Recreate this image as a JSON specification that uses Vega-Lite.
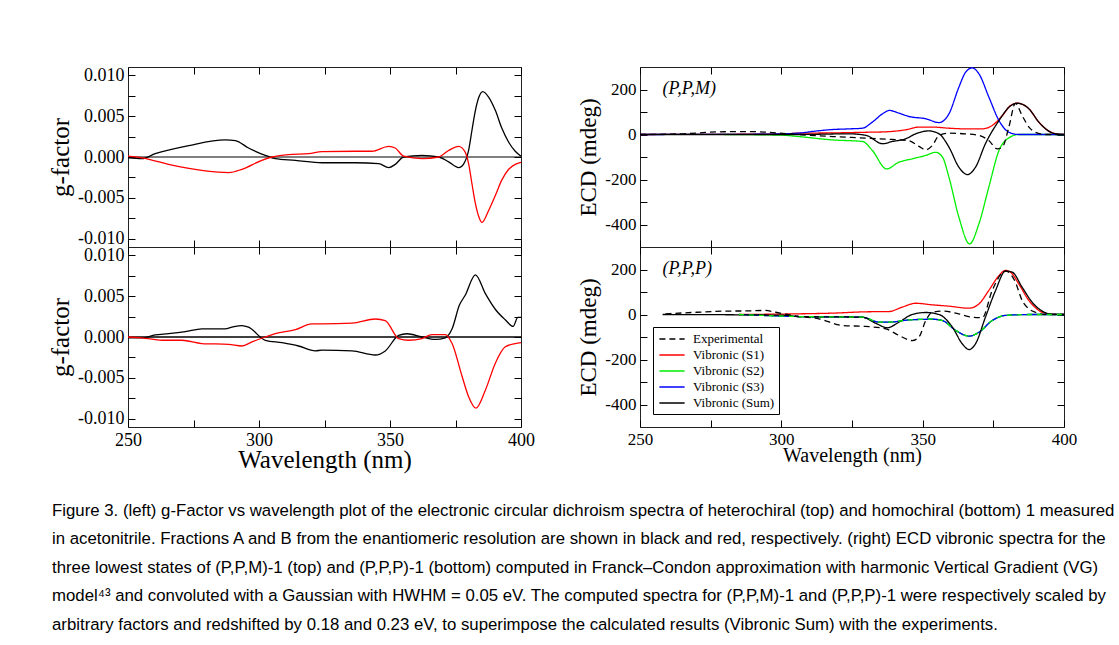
{
  "$schema": "https://vega.github.io/schema/vega-lite/v6.json",
  "background": "white",
  "padding": {"left": 48, "top": 64, "right": 0, "bottom": 0},
  "config": {
    "view": {"stroke": "#222", "strokeWidth": 1},
    "axis": {"grid": false, "domain": false, "tickColor": "#000", "tickSize": -7, "labelPadding": 11, "labelFont": "Liberation Serif", "titleFont": "Liberation Serif", "titleFontWeight": "normal", "labelColor": "#000", "titleColor": "#000", "labelFlush": false, "labelOverlap": false},
    "line": {"strokeWidth": 1.3, "interpolate": "monotone"}
  },
  "title": {
    "text": [
      "Figure 3. (left) g-Factor vs wavelength plot of the electronic circular dichroism spectra of heterochiral (top) and homochiral (bottom) 1 measured",
      "in acetonitrile. Fractions A and B from the enantiomeric resolution are shown in black and red, respectively. (right) ECD vibronic spectra for the",
      "three lowest states of (P,P,M)-1 (top) and (P,P,P)-1 (bottom) computed in Franck–Condon approximation with harmonic Vertical Gradient (VG)",
      "model⁴³ and convoluted with a Gaussian with HWHM = 0.05 eV. The computed spectra for (P,P,M)-1 and (P,P,P)-1 were respectively scaled by",
      "arbitrary factors and redshifted by 0.18 and 0.23 eV, to superimpose the calculated results (Vibronic Sum) with the experiments."
    ],
    "orient": "bottom", "anchor": "start", "frame": "bounds",
    "font": "Liberation Sans", "fontSize": 16.8, "fontWeight": "normal", "color": "#000",
    "lineHeight": 28.6, "offset": 30, "dx": 4
  },
  "datasets": {
    "gtop": [
      {"wl": 250, "v": -0.0001, "s": "A"}, {"wl": 255.3, "v": -0.0002, "s": "A"}, {"wl": 260.4, "v": 0.0004, "s": "A"}, {"wl": 273.2, "v": 0.0014, "s": "A"}, {"wl": 287.1, "v": 0.0021, "s": "A"}, {"wl": 291, "v": 0.002, "s": "A"}, {"wl": 296, "v": 0.0011, "s": "A"}, {"wl": 302.4, "v": 0.0002, "s": "A"}, {"wl": 306.2, "v": -0.0002, "s": "A"}, {"wl": 313.9, "v": -0.0004, "s": "A"}, {"wl": 324, "v": -0.0007, "s": "A"}, {"wl": 336.8, "v": -0.0007, "s": "A"}, {"wl": 345.7, "v": -0.0008, "s": "A"}, {"wl": 349.5, "v": -0.0013, "s": "A"}, {"wl": 352, "v": -0.0009, "s": "A"}, {"wl": 355.2, "v": 0, "s": "A"}, {"wl": 362.2, "v": 0.0002, "s": "A"}, {"wl": 368.6, "v": 0, "s": "A"}, {"wl": 372.4, "v": -0.0006, "s": "A"}, {"wl": 376.2, "v": -0.0013, "s": "A"}, {"wl": 378.2, "v": -0.0008, "s": "A"}, {"wl": 380, "v": 0.0008, "s": "A"}, {"wl": 381.3, "v": 0.0033, "s": "A"}, {"wl": 382.6, "v": 0.0057, "s": "A"}, {"wl": 383.9, "v": 0.0073, "s": "A"}, {"wl": 385.4, "v": 0.008, "s": "A"}, {"wl": 387.7, "v": 0.0073, "s": "A"}, {"wl": 390.2, "v": 0.0057, "s": "A"}, {"wl": 392.7, "v": 0.0035, "s": "A"}, {"wl": 395.3, "v": 0.0018, "s": "A"}, {"wl": 397.8, "v": 0.0007, "s": "A"}, {"wl": 400, "v": 0.0001, "s": "A"},
      {"wl": 250, "v": 0.0001, "s": "B"}, {"wl": 255.3, "v": -0.0001, "s": "B"}, {"wl": 266.8, "v": -0.001, "s": "B"}, {"wl": 279.5, "v": -0.0017, "s": "B"}, {"wl": 288.4, "v": -0.0019, "s": "B"}, {"wl": 293.5, "v": -0.0015, "s": "B"}, {"wl": 301.1, "v": -0.0004, "s": "B"}, {"wl": 305, "v": 0, "s": "B"}, {"wl": 311.3, "v": 0.0003, "s": "B"}, {"wl": 319, "v": 0.0004, "s": "B"}, {"wl": 324, "v": 0.00065, "s": "B"}, {"wl": 336.8, "v": 0.0007, "s": "B"}, {"wl": 343.1, "v": 0.0007, "s": "B"}, {"wl": 349.5, "v": 0.0013, "s": "B"}, {"wl": 352, "v": 0.0011, "s": "B"}, {"wl": 355.2, "v": 0.0001, "s": "B"}, {"wl": 362.2, "v": -0.0002, "s": "B"}, {"wl": 368.6, "v": 0, "s": "B"}, {"wl": 372.4, "v": 0.0008, "s": "B"}, {"wl": 376.2, "v": 0.0013, "s": "B"}, {"wl": 378.7, "v": 0.0006, "s": "B"}, {"wl": 380, "v": -0.0008, "s": "B"}, {"wl": 381.3, "v": -0.0033, "s": "B"}, {"wl": 382.6, "v": -0.0057, "s": "B"}, {"wl": 383.9, "v": -0.0073, "s": "B"}, {"wl": 385.1, "v": -0.008, "s": "B"}, {"wl": 387.7, "v": -0.0065, "s": "B"}, {"wl": 390.2, "v": -0.0047, "s": "B"}, {"wl": 392.7, "v": -0.0028, "s": "B"}, {"wl": 395.3, "v": -0.0015, "s": "B"}, {"wl": 397.8, "v": -0.0009, "s": "B"}, {"wl": 400, "v": -0.00065, "s": "B"}
    ],
    "gbot": [
      {"wl": 250, "v": -0.0001, "s": "A"}, {"wl": 255.3, "v": -0.0001, "s": "A"}, {"wl": 260.4, "v": 0.00025, "s": "A"}, {"wl": 265.5, "v": 0.0004, "s": "A"}, {"wl": 271.9, "v": 0.00065, "s": "A"}, {"wl": 278.2, "v": 0.001, "s": "A"}, {"wl": 287.1, "v": 0.001, "s": "A"}, {"wl": 289.7, "v": 0.0012, "s": "A"}, {"wl": 293.5, "v": 0.0014, "s": "A"}, {"wl": 296, "v": 0.0012, "s": "A"}, {"wl": 302.4, "v": -0.0004, "s": "A"}, {"wl": 308.8, "v": -0.0007, "s": "A"}, {"wl": 315.1, "v": -0.0011, "s": "A"}, {"wl": 321.5, "v": -0.0017, "s": "A"}, {"wl": 324, "v": -0.0016, "s": "A"}, {"wl": 335.5, "v": -0.0017, "s": "A"}, {"wl": 344.4, "v": -0.0022, "s": "A"}, {"wl": 348.2, "v": -0.0017, "s": "A"}, {"wl": 353.3, "v": 0.0002, "s": "A"}, {"wl": 356.5, "v": 0.0004, "s": "A"}, {"wl": 362.2, "v": 0, "s": "A"}, {"wl": 367.3, "v": -0.0003, "s": "A"}, {"wl": 371.1, "v": -0.0001, "s": "A"}, {"wl": 373.7, "v": 0.001, "s": "A"}, {"wl": 376.5, "v": 0.0039, "s": "A"}, {"wl": 378.7, "v": 0.0051, "s": "A"}, {"wl": 382.6, "v": 0.0076, "s": "A"}, {"wl": 386.4, "v": 0.0053, "s": "A"}, {"wl": 390.4, "v": 0.0033, "s": "A"}, {"wl": 394, "v": 0.0021, "s": "A"}, {"wl": 397, "v": 0.0013, "s": "A"}, {"wl": 398.8, "v": 0.0024, "s": "A"}, {"wl": 400, "v": 0.0024, "s": "A"},
      {"wl": 250, "v": 0, "s": "B"}, {"wl": 255.3, "v": -0.0001, "s": "B"}, {"wl": 263, "v": -0.0004, "s": "B"}, {"wl": 270.6, "v": -0.0004, "s": "B"}, {"wl": 278.2, "v": -0.0008, "s": "B"}, {"wl": 288.4, "v": -0.0009, "s": "B"}, {"wl": 293.5, "v": -0.0011, "s": "B"}, {"wl": 297.3, "v": -0.0006, "s": "B"}, {"wl": 302.4, "v": 0, "s": "B"}, {"wl": 306.2, "v": 0.0004, "s": "B"}, {"wl": 313.9, "v": 0.0009, "s": "B"}, {"wl": 320.2, "v": 0.0016, "s": "B"}, {"wl": 324, "v": 0.0016, "s": "B"}, {"wl": 335.5, "v": 0.0017, "s": "B"}, {"wl": 344.4, "v": 0.0022, "s": "B"}, {"wl": 348.2, "v": 0.002, "s": "B"}, {"wl": 353.3, "v": -0.0002, "s": "B"}, {"wl": 357.1, "v": -0.0004, "s": "B"}, {"wl": 362.2, "v": -0.0002, "s": "B"}, {"wl": 366, "v": 0.0003, "s": "B"}, {"wl": 371.1, "v": 0.0003, "s": "B"}, {"wl": 373.7, "v": -0.0008, "s": "B"}, {"wl": 377.5, "v": -0.0048, "s": "B"}, {"wl": 380, "v": -0.0073, "s": "B"}, {"wl": 382.8, "v": -0.0087, "s": "B"}, {"wl": 386.4, "v": -0.0065, "s": "B"}, {"wl": 390.2, "v": -0.0032, "s": "B"}, {"wl": 394, "v": -0.0012, "s": "B"}, {"wl": 397.8, "v": -0.0008, "s": "B"}, {"wl": 400, "v": -0.0007, "s": "B"}
    ],
    "ecdtop": [
      {"wl": 280, "v": 0, "s": "Vibronic (S2)"}, {"wl": 300, "v": -3, "s": "Vibronic (S2)"}, {"wl": 306, "v": -9, "s": "Vibronic (S2)"}, {"wl": 318, "v": -24, "s": "Vibronic (S2)"}, {"wl": 328.7, "v": -31, "s": "Vibronic (S2)"}, {"wl": 332.2, "v": -71, "s": "Vibronic (S2)"}, {"wl": 337.2, "v": -153, "s": "Vibronic (S2)"}, {"wl": 341.6, "v": -123, "s": "Vibronic (S2)"}, {"wl": 346.3, "v": -108, "s": "Vibronic (S2)"}, {"wl": 351.1, "v": -93, "s": "Vibronic (S2)"}, {"wl": 354.6, "v": -79, "s": "Vibronic (S2)"}, {"wl": 357, "v": -100, "s": "Vibronic (S2)"}, {"wl": 359.3, "v": -190, "s": "Vibronic (S2)"}, {"wl": 362.8, "v": -367, "s": "Vibronic (S2)"}, {"wl": 366.6, "v": -486, "s": "Vibronic (S2)"}, {"wl": 369.9, "v": -397, "s": "Vibronic (S2)"}, {"wl": 373.4, "v": -234, "s": "Vibronic (S2)"}, {"wl": 377, "v": -71, "s": "Vibronic (S2)"}, {"wl": 380.5, "v": -15, "s": "Vibronic (S2)"}, {"wl": 384, "v": 0, "s": "Vibronic (S2)"}, {"wl": 400, "v": 0, "s": "Vibronic (S2)"},
      {"wl": 250, "v": 0, "s": "Vibronic (S1)"}, {"wl": 300, "v": 2, "s": "Vibronic (S1)"}, {"wl": 306, "v": 6, "s": "Vibronic (S1)"}, {"wl": 318, "v": 7, "s": "Vibronic (S1)"}, {"wl": 330, "v": 10, "s": "Vibronic (S1)"}, {"wl": 337, "v": 12, "s": "Vibronic (S1)"}, {"wl": 344, "v": 21, "s": "Vibronic (S1)"}, {"wl": 348.7, "v": 33, "s": "Vibronic (S1)"}, {"wl": 353.4, "v": 33, "s": "Vibronic (S1)"}, {"wl": 359.3, "v": 28, "s": "Vibronic (S1)"}, {"wl": 365, "v": 25, "s": "Vibronic (S1)"}, {"wl": 371, "v": 25, "s": "Vibronic (S1)"}, {"wl": 374.6, "v": 40, "s": "Vibronic (S1)"}, {"wl": 378.2, "v": 84, "s": "Vibronic (S1)"}, {"wl": 381.1, "v": 129, "s": "Vibronic (S1)"}, {"wl": 383.5, "v": 139, "s": "Vibronic (S1)"}, {"wl": 387.6, "v": 114, "s": "Vibronic (S1)"}, {"wl": 391.1, "v": 55, "s": "Vibronic (S1)"}, {"wl": 394.6, "v": 15, "s": "Vibronic (S1)"}, {"wl": 398.2, "v": 1, "s": "Vibronic (S1)"}, {"wl": 400, "v": 0, "s": "Vibronic (S1)"},
      {"wl": 250, "v": 0, "s": "Vibronic (S3)"}, {"wl": 290, "v": 1, "s": "Vibronic (S3)"}, {"wl": 300, "v": 3, "s": "Vibronic (S3)"}, {"wl": 306, "v": 6, "s": "Vibronic (S3)"}, {"wl": 312, "v": 15, "s": "Vibronic (S3)"}, {"wl": 318, "v": 22, "s": "Vibronic (S3)"}, {"wl": 324, "v": 25, "s": "Vibronic (S3)"}, {"wl": 328.7, "v": 28, "s": "Vibronic (S3)"}, {"wl": 332.2, "v": 55, "s": "Vibronic (S3)"}, {"wl": 335.8, "v": 92, "s": "Vibronic (S3)"}, {"wl": 338.3, "v": 107, "s": "Vibronic (S3)"}, {"wl": 341.6, "v": 95, "s": "Vibronic (S3)"}, {"wl": 345.2, "v": 80, "s": "Vibronic (S3)"}, {"wl": 351.1, "v": 70, "s": "Vibronic (S3)"}, {"wl": 355.8, "v": 53, "s": "Vibronic (S3)"}, {"wl": 359.3, "v": 92, "s": "Vibronic (S3)"}, {"wl": 362.8, "v": 210, "s": "Vibronic (S3)"}, {"wl": 365.2, "v": 277, "s": "Vibronic (S3)"}, {"wl": 367.5, "v": 296, "s": "Vibronic (S3)"}, {"wl": 369.9, "v": 270, "s": "Vibronic (S3)"}, {"wl": 373.4, "v": 167, "s": "Vibronic (S3)"}, {"wl": 377, "v": 62, "s": "Vibronic (S3)"}, {"wl": 380.5, "v": 10, "s": "Vibronic (S3)"}, {"wl": 384, "v": 0, "s": "Vibronic (S3)"}, {"wl": 400, "v": 0, "s": "Vibronic (S3)"},
      {"wl": 250, "v": 0, "s": "Experimental"}, {"wl": 265, "v": 3, "s": "Experimental"}, {"wl": 278, "v": 12, "s": "Experimental"}, {"wl": 290, "v": 13, "s": "Experimental"}, {"wl": 297, "v": 8, "s": "Experimental"}, {"wl": 306, "v": 0, "s": "Experimental"}, {"wl": 318, "v": -9, "s": "Experimental"}, {"wl": 330, "v": -16, "s": "Experimental"}, {"wl": 339, "v": -22, "s": "Experimental"}, {"wl": 345, "v": -27, "s": "Experimental"}, {"wl": 348.7, "v": -53, "s": "Experimental"}, {"wl": 351.1, "v": -68, "s": "Experimental"}, {"wl": 353.4, "v": -49, "s": "Experimental"}, {"wl": 355.8, "v": -4, "s": "Experimental"}, {"wl": 359.3, "v": 6, "s": "Experimental"}, {"wl": 365, "v": 3, "s": "Experimental"}, {"wl": 369.9, "v": -4, "s": "Experimental"}, {"wl": 373.4, "v": -27, "s": "Experimental"}, {"wl": 376.4, "v": -64, "s": "Experimental"}, {"wl": 378.2, "v": -56, "s": "Experimental"}, {"wl": 380.5, "v": 33, "s": "Experimental"}, {"wl": 382.8, "v": 139, "s": "Experimental"}, {"wl": 385.2, "v": 84, "s": "Experimental"}, {"wl": 387.6, "v": 33, "s": "Experimental"}, {"wl": 389.9, "v": 10, "s": "Experimental"}, {"wl": 393.5, "v": 0, "s": "Experimental"}, {"wl": 400, "v": 0, "s": "Experimental"},
      {"wl": 250, "v": 0, "s": "Vibronic (Sum)"}, {"wl": 306, "v": 0, "s": "Vibronic (Sum)"}, {"wl": 324, "v": 3, "s": "Vibronic (Sum)"}, {"wl": 330, "v": -4, "s": "Vibronic (Sum)"}, {"wl": 335.8, "v": -41, "s": "Vibronic (Sum)"}, {"wl": 339.3, "v": -31, "s": "Vibronic (Sum)"}, {"wl": 344, "v": -19, "s": "Vibronic (Sum)"}, {"wl": 347.5, "v": 3, "s": "Vibronic (Sum)"}, {"wl": 352.2, "v": 16, "s": "Vibronic (Sum)"}, {"wl": 355.8, "v": 3, "s": "Vibronic (Sum)"}, {"wl": 359.3, "v": -56, "s": "Vibronic (Sum)"}, {"wl": 362.8, "v": -145, "s": "Vibronic (Sum)"}, {"wl": 365.8, "v": -178, "s": "Vibronic (Sum)"}, {"wl": 368.7, "v": -145, "s": "Vibronic (Sum)"}, {"wl": 372.2, "v": -41, "s": "Vibronic (Sum)"}, {"wl": 377, "v": 62, "s": "Vibronic (Sum)"}, {"wl": 380.5, "v": 121, "s": "Vibronic (Sum)"}, {"wl": 383.5, "v": 139, "s": "Vibronic (Sum)"}, {"wl": 387.6, "v": 114, "s": "Vibronic (Sum)"}, {"wl": 391.1, "v": 55, "s": "Vibronic (Sum)"}, {"wl": 394.6, "v": 15, "s": "Vibronic (Sum)"}, {"wl": 398.2, "v": 1, "s": "Vibronic (Sum)"}, {"wl": 400, "v": 0, "s": "Vibronic (Sum)"}
    ],
    "ecdbot": [
      {"wl": 285, "v": 0, "s": "Vibronic (S1)"}, {"wl": 306.2, "v": 3, "s": "Vibronic (S1)"}, {"wl": 318.1, "v": 6, "s": "Vibronic (S1)"}, {"wl": 329.9, "v": 12, "s": "Vibronic (S1)"}, {"wl": 338, "v": 13, "s": "Vibronic (S1)"}, {"wl": 342.8, "v": 33, "s": "Vibronic (S1)"}, {"wl": 347.5, "v": 50, "s": "Vibronic (S1)"}, {"wl": 353.4, "v": 43, "s": "Vibronic (S1)"}, {"wl": 359.3, "v": 37, "s": "Vibronic (S1)"}, {"wl": 366.4, "v": 28, "s": "Vibronic (S1)"}, {"wl": 369.9, "v": 47, "s": "Vibronic (S1)"}, {"wl": 373.4, "v": 107, "s": "Vibronic (S1)"}, {"wl": 377, "v": 173, "s": "Vibronic (S1)"}, {"wl": 379.3, "v": 196, "s": "Vibronic (S1)"}, {"wl": 381.1, "v": 188, "s": "Vibronic (S1)"}, {"wl": 384, "v": 136, "s": "Vibronic (S1)"}, {"wl": 387.6, "v": 62, "s": "Vibronic (S1)"}, {"wl": 391.1, "v": 18, "s": "Vibronic (S1)"}, {"wl": 394.6, "v": 3, "s": "Vibronic (S1)"}, {"wl": 400, "v": 0, "s": "Vibronic (S1)"},
      {"wl": 285, "v": 0, "s": "Vibronic (S2)"}, {"wl": 306.2, "v": -9, "s": "Vibronic (S2)"}, {"wl": 328.7, "v": -12, "s": "Vibronic (S2)"}, {"wl": 334.6, "v": -34, "s": "Vibronic (S2)"}, {"wl": 338.1, "v": -34, "s": "Vibronic (S2)"}, {"wl": 345.2, "v": -24, "s": "Vibronic (S2)"}, {"wl": 353.4, "v": -21, "s": "Vibronic (S2)"}, {"wl": 357, "v": -27, "s": "Vibronic (S2)"}, {"wl": 361.7, "v": -71, "s": "Vibronic (S2)"}, {"wl": 366.4, "v": -96, "s": "Vibronic (S2)"}, {"wl": 369.9, "v": -79, "s": "Vibronic (S2)"}, {"wl": 374.6, "v": -27, "s": "Vibronic (S2)"}, {"wl": 379.3, "v": -4, "s": "Vibronic (S2)"}, {"wl": 388.7, "v": 0, "s": "Vibronic (S2)"}, {"wl": 400, "v": 0, "s": "Vibronic (S2)"},
      {"wl": 285, "v": 0, "s": "Vibronic (S3)"}, {"wl": 306.2, "v": -9, "s": "Vibronic (S3)"}, {"wl": 328.7, "v": -12, "s": "Vibronic (S3)"}, {"wl": 334.6, "v": -34, "s": "Vibronic (S3)"}, {"wl": 338.1, "v": -34, "s": "Vibronic (S3)"}, {"wl": 345.2, "v": -24, "s": "Vibronic (S3)"}, {"wl": 353.4, "v": -21, "s": "Vibronic (S3)"}, {"wl": 357, "v": -27, "s": "Vibronic (S3)"}, {"wl": 361.7, "v": -71, "s": "Vibronic (S3)"}, {"wl": 366.4, "v": -96, "s": "Vibronic (S3)"}, {"wl": 369.9, "v": -79, "s": "Vibronic (S3)"}, {"wl": 374.6, "v": -27, "s": "Vibronic (S3)"}, {"wl": 379.3, "v": -4, "s": "Vibronic (S3)"}, {"wl": 388.7, "v": 0, "s": "Vibronic (S3)"}, {"wl": 400, "v": 0, "s": "Vibronic (S3)"},
      {"wl": 259, "v": 3, "s": "Experimental"}, {"wl": 270, "v": 10, "s": "Experimental"}, {"wl": 280, "v": 15, "s": "Experimental"}, {"wl": 288, "v": 16, "s": "Experimental"}, {"wl": 294, "v": 18, "s": "Experimental"}, {"wl": 298, "v": 10, "s": "Experimental"}, {"wl": 302, "v": 0, "s": "Experimental"}, {"wl": 306.2, "v": -9, "s": "Experimental"}, {"wl": 313.3, "v": -19, "s": "Experimental"}, {"wl": 321.6, "v": -49, "s": "Experimental"}, {"wl": 329.9, "v": -53, "s": "Experimental"}, {"wl": 337, "v": -64, "s": "Experimental"}, {"wl": 341.6, "v": -93, "s": "Experimental"}, {"wl": 346.3, "v": -116, "s": "Experimental"}, {"wl": 348.7, "v": -100, "s": "Experimental"}, {"wl": 351.1, "v": -27, "s": "Experimental"}, {"wl": 353.4, "v": 10, "s": "Experimental"}, {"wl": 357, "v": 15, "s": "Experimental"}, {"wl": 362.8, "v": 3, "s": "Experimental"}, {"wl": 367.5, "v": -12, "s": "Experimental"}, {"wl": 371.1, "v": -14, "s": "Experimental"}, {"wl": 374.6, "v": 107, "s": "Experimental"}, {"wl": 379.3, "v": 193, "s": "Experimental"}, {"wl": 382.8, "v": 144, "s": "Experimental"}, {"wl": 385.2, "v": 62, "s": "Experimental"}, {"wl": 387.6, "v": 25, "s": "Experimental"}, {"wl": 389.9, "v": 10, "s": "Experimental"}, {"wl": 393.5, "v": 0, "s": "Experimental"}, {"wl": 400, "v": 0, "s": "Experimental"},
      {"wl": 258, "v": 0, "s": "Vibronic (Sum)"}, {"wl": 300, "v": -3, "s": "Vibronic (Sum)"}, {"wl": 306.2, "v": -9, "s": "Vibronic (Sum)"}, {"wl": 328.7, "v": -12, "s": "Vibronic (Sum)"}, {"wl": 333.4, "v": -39, "s": "Vibronic (Sum)"}, {"wl": 337.5, "v": -59, "s": "Vibronic (Sum)"}, {"wl": 341.6, "v": -34, "s": "Vibronic (Sum)"}, {"wl": 346.3, "v": 0, "s": "Vibronic (Sum)"}, {"wl": 351.1, "v": 9, "s": "Vibronic (Sum)"}, {"wl": 355.8, "v": 0, "s": "Vibronic (Sum)"}, {"wl": 360.5, "v": -56, "s": "Vibronic (Sum)"}, {"wl": 364, "v": -130, "s": "Vibronic (Sum)"}, {"wl": 366.4, "v": -156, "s": "Vibronic (Sum)"}, {"wl": 368.7, "v": -130, "s": "Vibronic (Sum)"}, {"wl": 372.2, "v": -12, "s": "Vibronic (Sum)"}, {"wl": 375.8, "v": 107, "s": "Vibronic (Sum)"}, {"wl": 379.3, "v": 193, "s": "Vibronic (Sum)"}, {"wl": 381.7, "v": 188, "s": "Vibronic (Sum)"}, {"wl": 385.2, "v": 121, "s": "Vibronic (Sum)"}, {"wl": 388.7, "v": 55, "s": "Vibronic (Sum)"}, {"wl": 392.3, "v": 15, "s": "Vibronic (Sum)"}, {"wl": 395.8, "v": 1, "s": "Vibronic (Sum)"}, {"wl": 400, "v": 0, "s": "Vibronic (Sum)"}
    ]
  },
  "vconcat": [
    {
      "hconcat": [
        {
          "vconcat": [
            {
              "width": 393, "height": 180,
              "layer": [
                {"data": {"values": [{}]}, "mark": {"type": "rule", "color": "#000", "strokeWidth": 1}, "encoding": {"y": {"datum": 0, "type": "quantitative", "axis": null}}},
                {"data": {"name": "gtop"}, "mark": {"type": "line"},
                 "encoding": {
                   "x": {"field": "wl", "type": "quantitative", "scale": {"domain": [250, 400], "nice": false, "zero": false}, "axis": {"orient": "bottom", "values": [250, 275, 300, 325, 350, 375, 400], "labels": false, "title": null}},
                   "y": {"field": "v", "type": "quantitative", "scale": {"domain": [-0.011, 0.011], "nice": false, "zero": false}, "axis": {"orient": "left", "values": [-0.01, -0.0075, -0.005, -0.0025, 0, 0.0025, 0.005, 0.0075, 0.01], "labelExpr": "abs(round(datum.value*10000)) % 50 === 0 ? (datum.value < 0 ? '-' : '') + format(abs(datum.value), '.3f') : ''", "title": "g-factor", "titleFontSize": 25, "labelFontSize": 18, "titlePadding": 4}},
                   "color": {"field": "s", "type": "nominal", "scale": {"domain": ["A", "B"], "range": ["#000000", "#ff0000"]}, "legend": null}
                 }},
                {"data": {"name": "gtop"}, "mark": {"type": "line", "opacity": 0},
                 "encoding": {
                   "x": {"field": "wl", "type": "quantitative", "scale": {"domain": [250, 400], "nice": false, "zero": false}, "axis": {"orient": "top", "values": [250, 275, 300, 325, 350, 375, 400], "labels": false, "title": null}},
                   "y": {"field": "v", "type": "quantitative", "scale": {"domain": [-0.011, 0.011], "nice": false, "zero": false}, "axis": {"orient": "right", "values": [-0.01, -0.0075, -0.005, -0.0025, 0, 0.0025, 0.005, 0.0075, 0.01], "labels": false, "title": null}}
                 }}
              ],
              "resolve": {"axis": {"x": "independent", "y": "independent"}}
            },
            {
              "width": 393, "height": 180,
              "layer": [
                {"data": {"values": [{}]}, "mark": {"type": "rule", "color": "#000", "strokeWidth": 1.3}, "encoding": {"y": {"datum": 0, "type": "quantitative", "axis": null}}},
                {"data": {"name": "gbot"}, "mark": {"type": "line"},
                 "encoding": {
                   "x": {"field": "wl", "type": "quantitative", "scale": {"domain": [250, 400], "nice": false, "zero": false}, "axis": {"orient": "bottom", "values": [250, 275, 300, 325, 350, 375, 400], "labelExpr": "datum.value % 50 === 0 ? '' + datum.value : ''", "title": "Wavelength (nm)", "titleFontSize": 25, "labelFontSize": 18, "titlePadding": -2}},
                   "y": {"field": "v", "type": "quantitative", "scale": {"domain": [-0.011, 0.011], "nice": false, "zero": false}, "axis": {"orient": "left", "values": [-0.01, -0.0075, -0.005, -0.0025, 0, 0.0025, 0.005, 0.0075, 0.01], "labelExpr": "abs(round(datum.value*10000)) % 50 === 0 ? (datum.value < 0 ? '-' : '') + format(abs(datum.value), '.3f') : ''", "title": "g-factor", "titleFontSize": 25, "labelFontSize": 18, "titlePadding": 4}},
                   "color": {"field": "s", "type": "nominal", "scale": {"domain": ["A", "B"], "range": ["#000000", "#ff0000"]}, "legend": null}
                 }},
                {"data": {"name": "gbot"}, "mark": {"type": "line", "opacity": 0},
                 "encoding": {
                   "x": {"field": "wl", "type": "quantitative", "scale": {"domain": [250, 400], "nice": false, "zero": false}, "axis": {"orient": "top", "values": [250, 275, 300, 325, 350, 375, 400], "labels": false, "title": null}},
                   "y": {"field": "v", "type": "quantitative", "scale": {"domain": [-0.011, 0.011], "nice": false, "zero": false}, "axis": {"orient": "right", "values": [-0.01, -0.0075, -0.005, -0.0025, 0, 0.0025, 0.005, 0.0075, 0.01], "labels": false, "title": null}}
                 }}
              ],
              "resolve": {"axis": {"x": "independent", "y": "independent"}}
            }
          ],
          "spacing": 0, "bounds": "flush"
        },
        {
          "vconcat": [
            {
              "width": 424, "height": 180,
              "layer": [
                {"data": {"name": "ecdtop"}, "mark": {"type": "line"},
                 "encoding": {
                   "x": {"field": "wl", "type": "quantitative", "scale": {"domain": [250, 400], "nice": false, "zero": false}, "axis": {"orient": "bottom", "values": [250, 275, 300, 325, 350, 375, 400], "labels": false, "title": null}},
                   "y": {"field": "v", "type": "quantitative", "scale": {"domain": [-500, 300], "nice": false, "zero": false}, "axis": {"orient": "left", "values": [-400, -300, -200, -100, 0, 100, 200], "labelExpr": "datum.value % 200 === 0 ? (datum.value < 0 ? '-' : '') + abs(datum.value) : ''", "title": "ECD (mdeg)", "titleFontSize": 23, "labelFontSize": 17, "titlePadding": 4}},
                   "color": {"field": "s", "type": "nominal", "scale": {"domain": ["Experimental", "Vibronic (S1)", "Vibronic (S2)", "Vibronic (S3)", "Vibronic (Sum)"], "range": ["#000000", "#ff0000", "#00ee00", "#0000ff", "#000000"]}, "legend": null},
                   "strokeDash": {"field": "s", "type": "nominal", "scale": {"domain": ["Experimental", "Vibronic (S1)", "Vibronic (S2)", "Vibronic (S3)", "Vibronic (Sum)"], "range": [[6, 4], [1, 0], [1, 0], [1, 0], [1, 0]]}, "legend": null}
                 }},
                {"data": {"name": "ecdtop"}, "mark": {"type": "line", "opacity": 0},
                 "encoding": {
                   "x": {"field": "wl", "type": "quantitative", "scale": {"domain": [250, 400], "nice": false, "zero": false}, "axis": {"orient": "top", "values": [250, 275, 300, 325, 350, 375, 400], "labels": false, "title": null}},
                   "y": {"field": "v", "type": "quantitative", "scale": {"domain": [-500, 300], "nice": false, "zero": false}, "axis": {"orient": "right", "values": [-400, -300, -200, -100, 0, 100, 200], "labels": false, "title": null}}
                 }},
                {"data": {"values": [{"label": "(P,P,M)"}]}, "mark": {"type": "text", "align": "left", "baseline": "middle", "font": "Liberation Serif", "fontSize": 18, "fontStyle": "italic", "color": "#000"},
                 "encoding": {"x": {"datum": 258, "type": "quantitative", "axis": null}, "y": {"datum": 204, "type": "quantitative", "axis": null}, "text": {"field": "label"}}}
              ],
              "resolve": {"axis": {"x": "independent", "y": "independent"}}
            },
            {
              "width": 424, "height": 180,
              "layer": [
                {"data": {"name": "ecdbot"}, "mark": {"type": "line"},
                 "encoding": {
                   "x": {"field": "wl", "type": "quantitative", "scale": {"domain": [250, 400], "nice": false, "zero": false}, "axis": {"orient": "bottom", "values": [250, 275, 300, 325, 350, 375, 400], "labelExpr": "datum.value % 50 === 0 ? '' + datum.value : ''", "title": "Wavelength (nm)", "titleFontSize": 20, "labelFontSize": 17, "titlePadding": -2}},
                   "y": {"field": "v", "type": "quantitative", "scale": {"domain": [-500, 300], "nice": false, "zero": false}, "axis": {"orient": "left", "values": [-400, -300, -200, -100, 0, 100, 200], "labelExpr": "datum.value % 200 === 0 ? (datum.value < 0 ? '-' : '') + abs(datum.value) : ''", "title": "ECD (mdeg)", "titleFontSize": 23, "labelFontSize": 17, "titlePadding": 4}},
                   "color": {"field": "s", "type": "nominal", "scale": {"domain": ["Experimental", "Vibronic (S1)", "Vibronic (S2)", "Vibronic (S3)", "Vibronic (Sum)"], "range": ["#000000", "#ff0000", "#00ee00", "#0000ff", "#000000"]},
                     "legend": {"orient": "bottom-left", "offset": 13, "title": null, "strokeColor": "#000", "fillColor": "#fff", "padding": 4, "labelFont": "Liberation Serif", "labelFontSize": 13, "labelColor": "#000", "symbolType": "M-1.8,0H1.8", "symbolSize": 196, "symbolStrokeWidth": 1.5, "symbolOffset": 7, "rowPadding": 1, "labelOffset": 13}},
                   "strokeDash": {"field": "s", "type": "nominal", "scale": {"domain": ["Experimental", "Vibronic (S1)", "Vibronic (S2)", "Vibronic (S3)", "Vibronic (Sum)"], "range": [[6, 4], [1, 0], [1, 0], [1, 0], [1, 0]]},
                     "legend": {"orient": "bottom-left", "offset": 13, "title": null, "strokeColor": "#000", "fillColor": "#fff", "padding": 4, "labelFont": "Liberation Serif", "labelFontSize": 13, "labelColor": "#000", "symbolType": "M-1.8,0H1.8", "symbolSize": 196, "symbolStrokeWidth": 1.5, "symbolOffset": 7, "rowPadding": 1, "labelOffset": 13}}
                 }},
                {"data": {"name": "ecdbot"}, "transform": [{"filter": "datum.s === 'Vibronic (S2)'"}], "mark": {"type": "line", "color": "#00ee00", "strokeDash": [5, 5]},
                 "encoding": {"x": {"field": "wl", "type": "quantitative", "axis": null}, "y": {"field": "v", "type": "quantitative", "axis": null}}},
                {"data": {"name": "ecdbot"}, "mark": {"type": "line", "opacity": 0},
                 "encoding": {
                   "x": {"field": "wl", "type": "quantitative", "scale": {"domain": [250, 400], "nice": false, "zero": false}, "axis": {"orient": "top", "values": [250, 275, 300, 325, 350, 375, 400], "labels": false, "title": null}},
                   "y": {"field": "v", "type": "quantitative", "scale": {"domain": [-500, 300], "nice": false, "zero": false}, "axis": {"orient": "right", "values": [-400, -300, -200, -100, 0, 100, 200], "labels": false, "title": null}}
                 }},
                {"data": {"values": [{"label": "(P,P,P)"}]}, "mark": {"type": "text", "align": "left", "baseline": "middle", "font": "Liberation Serif", "fontSize": 18, "fontStyle": "italic", "color": "#000"},
                 "encoding": {"x": {"datum": 258, "type": "quantitative", "axis": null}, "y": {"datum": 204, "type": "quantitative", "axis": null}, "text": {"field": "label"}}}
              ],
              "resolve": {"axis": {"x": "independent", "y": "independent"}}
            }
          ],
          "spacing": 0, "bounds": "flush",
          "resolve": {"scale": {"color": "independent", "strokeDash": "independent"}}
        }
      ],
      "spacing": 42,
      "resolve": {"scale": {"color": "independent", "strokeDash": "independent"}}
    }
  ]
}
